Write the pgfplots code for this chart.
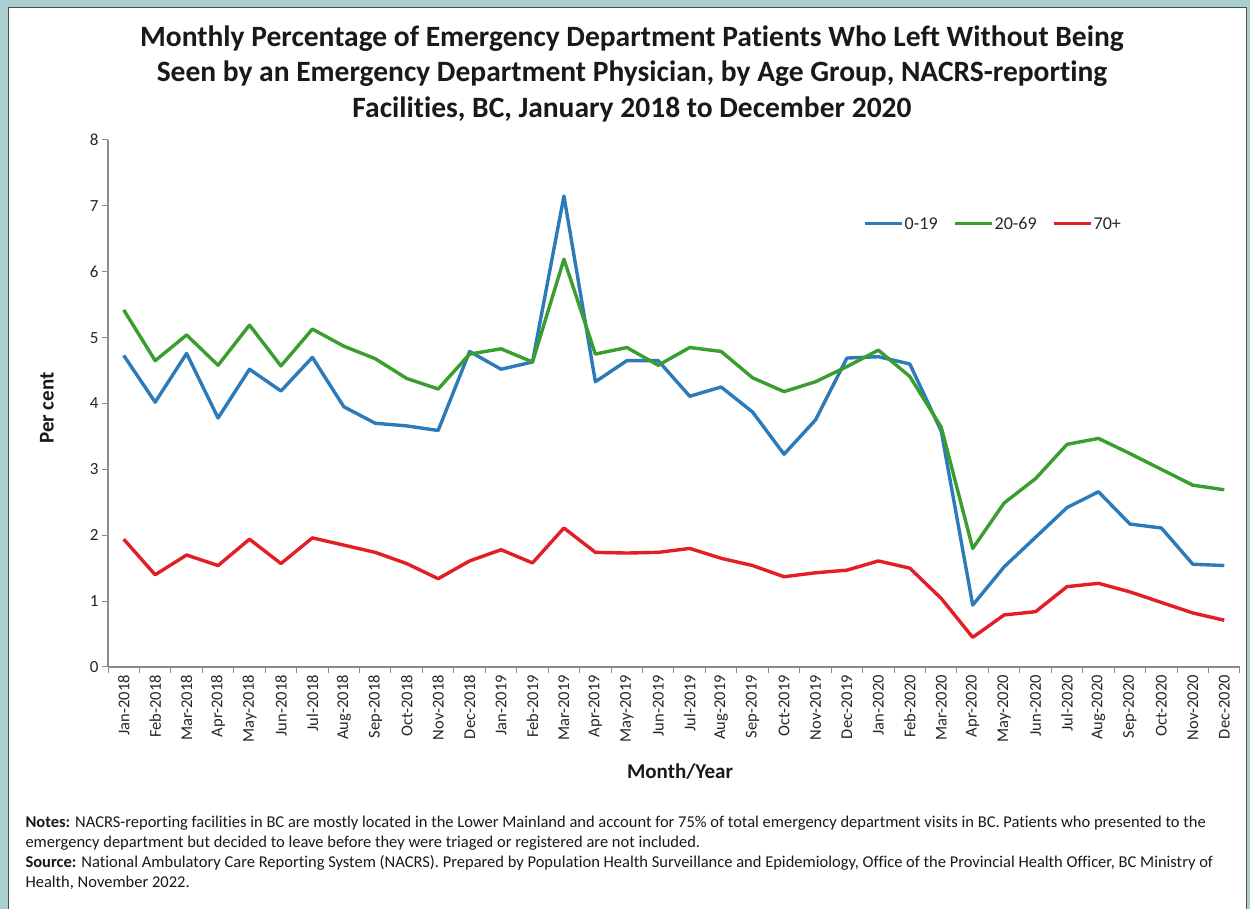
\documentclass[border=0pt]{standalone}
\usepackage{fontspec}
\setmainfont{Carlito}[Ligatures=NoCommon]
\usepackage{pgfplots}
\usepackage{pgfplotstable}
\pgfplotsset{compat=1.18}
\definecolor{teal1}{HTML}{A9CFCF}
\definecolor{cblue}{HTML}{2B7BBA}
\definecolor{cgreen}{HTML}{3A9E2E}
\definecolor{cred}{HTML}{E31E24}
\definecolor{axgray}{HTML}{8C8C8C}
\newcommand{\fs}[2]{\fontsize{#1bp}{#2bp}\selectfont}

\pgfplotstableread{
x b g r
0 4.73 5.42 1.94
1 4.02 4.65 1.40
2 4.76 5.04 1.70
3 3.78 4.58 1.54
4 4.52 5.19 1.94
5 4.19 4.57 1.57
6 4.70 5.13 1.96
7 3.95 4.87 1.85
8 3.70 4.68 1.74
9 3.66 4.38 1.57
10 3.59 4.22 1.34
11 4.79 4.75 1.61
12 4.52 4.83 1.78
13 4.63 4.63 1.58
14 7.15 6.19 2.11
15 4.33 4.75 1.74
16 4.65 4.85 1.73
17 4.65 4.58 1.74
18 4.11 4.85 1.80
19 4.25 4.79 1.65
20 3.87 4.39 1.54
21 3.23 4.18 1.37
22 3.75 4.33 1.43
23 4.69 4.56 1.47
24 4.71 4.81 1.61
25 4.60 4.41 1.50
26 3.58 3.64 1.04
27 0.94 1.80 0.45
28 1.52 2.49 0.79
29 1.97 2.86 0.84
30 2.42 3.38 1.22
31 2.66 3.47 1.27
32 2.17 3.24 1.14
33 2.11 3.00 0.98
34 1.56 2.76 0.82
35 1.54 2.69 0.71
}\datatable

\begin{document}
\begin{tikzpicture}[x=1bp,y=1bp]
\useasboundingbox (0,0) rectangle (1250,909);
\fill[teal1] (0,0) rectangle (1250,909);
\filldraw[fill=white, draw=black!70, line width=1bp] (8,-2) rectangle (1246,901);

\begin{axis}[
  at={(108bp,242bp)}, anchor=south west, scale only axis,
  width=1132bp, height=527bp,
  xmin=-0.5, xmax=35.5, ymin=0, ymax=8,
  axis x line*=bottom, axis y line*=left,
  axis line style={axgray, line width=1.2bp, -},
  xtick={0,...,35},
  xticklabels={Jan-2018,Feb-2018,Mar-2018,Apr-2018,May-2018,Jun-2018,Jul-2018,Aug-2018,Sep-2018,Oct-2018,Nov-2018,Dec-2018,Jan-2019,Feb-2019,Mar-2019,Apr-2019,May-2019,Jun-2019,Jul-2019,Aug-2019,Sep-2019,Oct-2019,Nov-2019,Dec-2019,Jan-2020,Feb-2020,Mar-2020,Apr-2020,May-2020,Jun-2020,Jul-2020,Aug-2020,Sep-2020,Oct-2020,Nov-2020,Dec-2020},
  major x tick style={draw=none},
  minor xtick={-0.5,0.5,...,35.5},
  ytick={0,...,8},
  tick align=outside,
  major tick length=6bp, minor tick length=6bp,
  tick style={axgray, line width=1bp},
  xticklabel style={rotate=90, anchor=east, font=\fs{16.5}{19}, text=black!85, inner sep=2bp},
  yticklabel style={font=\fs{17}{19}, text=black!85},
  /pgf/number format/assume math mode=true,
  legend style={at={(0.667,0.8406)}, anchor=west, draw=none, fill=none,
    font=\fs{18}{21}, inner sep=0pt, text=black!85,
    /tikz/every even column/.append style={column sep=14bp},
    nodes={inner sep=1.5bp}},
  legend columns=3,
  legend image code/.code={\draw[#1, line width=3bp] (0bp,0bp) -- (37bp,0bp);},
  every axis plot/.append style={line width=3.4bp, line join=round},
]
\addplot[cblue, mark=none] table[x=x, y=b] {\datatable};
\addlegendentry{0-19}
\addplot[cgreen, mark=none] table[x=x, y=g] {\datatable};
\addlegendentry{20-69}
\addplot[cred, mark=none] table[x=x, y=r] {\datatable};
\addlegendentry{70+}
\end{axis}

\node[font=\bfseries\fs{29.5}{34}, text=black!90] at (632,870) {Monthly Percentage of Emergency Department Patients Who Left Without Being};
\node[font=\bfseries\fs{29.5}{34}, text=black!90] at (632,835) {Seen by an Emergency Department Physician, by Age Group, NACRS-reporting};
\node[font=\bfseries\fs{29.5}{34}, text=black!90] at (632,800) {Facilities, BC, January 2018 to December 2020};

\node[rotate=90, font=\bfseries\fs{21}{24}, text=black!90] at (47,501) {Per cent};
\node[font=\bfseries\fs{21}{24}, text=black!90] at (680,137) {Month/Year};

\node[anchor=west, font=\fs{16.5}{19}, text=black!90] at (22,86) {\textbf{Notes:} NACRS-reporting facilities in BC are mostly located in the Lower Mainland and account for 75\% of total emergency department visits in BC. Patients who presented to the};
\node[anchor=west, font=\fs{16.5}{19}, text=black!90] at (22,66) {emergency department but decided to leave before they were triaged or registered are not included.};
\node[anchor=west, font=\fs{16.5}{19}, text=black!90] at (22,46) {\textbf{Source:} National Ambulatory Care Reporting System (NACRS). Prepared by Population Health Surveillance and Epidemiology, Office of the Provincial Health Officer, BC Ministry of};
\node[anchor=west, font=\fs{16.5}{19}, text=black!90] at (22,26) {Health, November 2022.};
\end{tikzpicture}
\end{document}
